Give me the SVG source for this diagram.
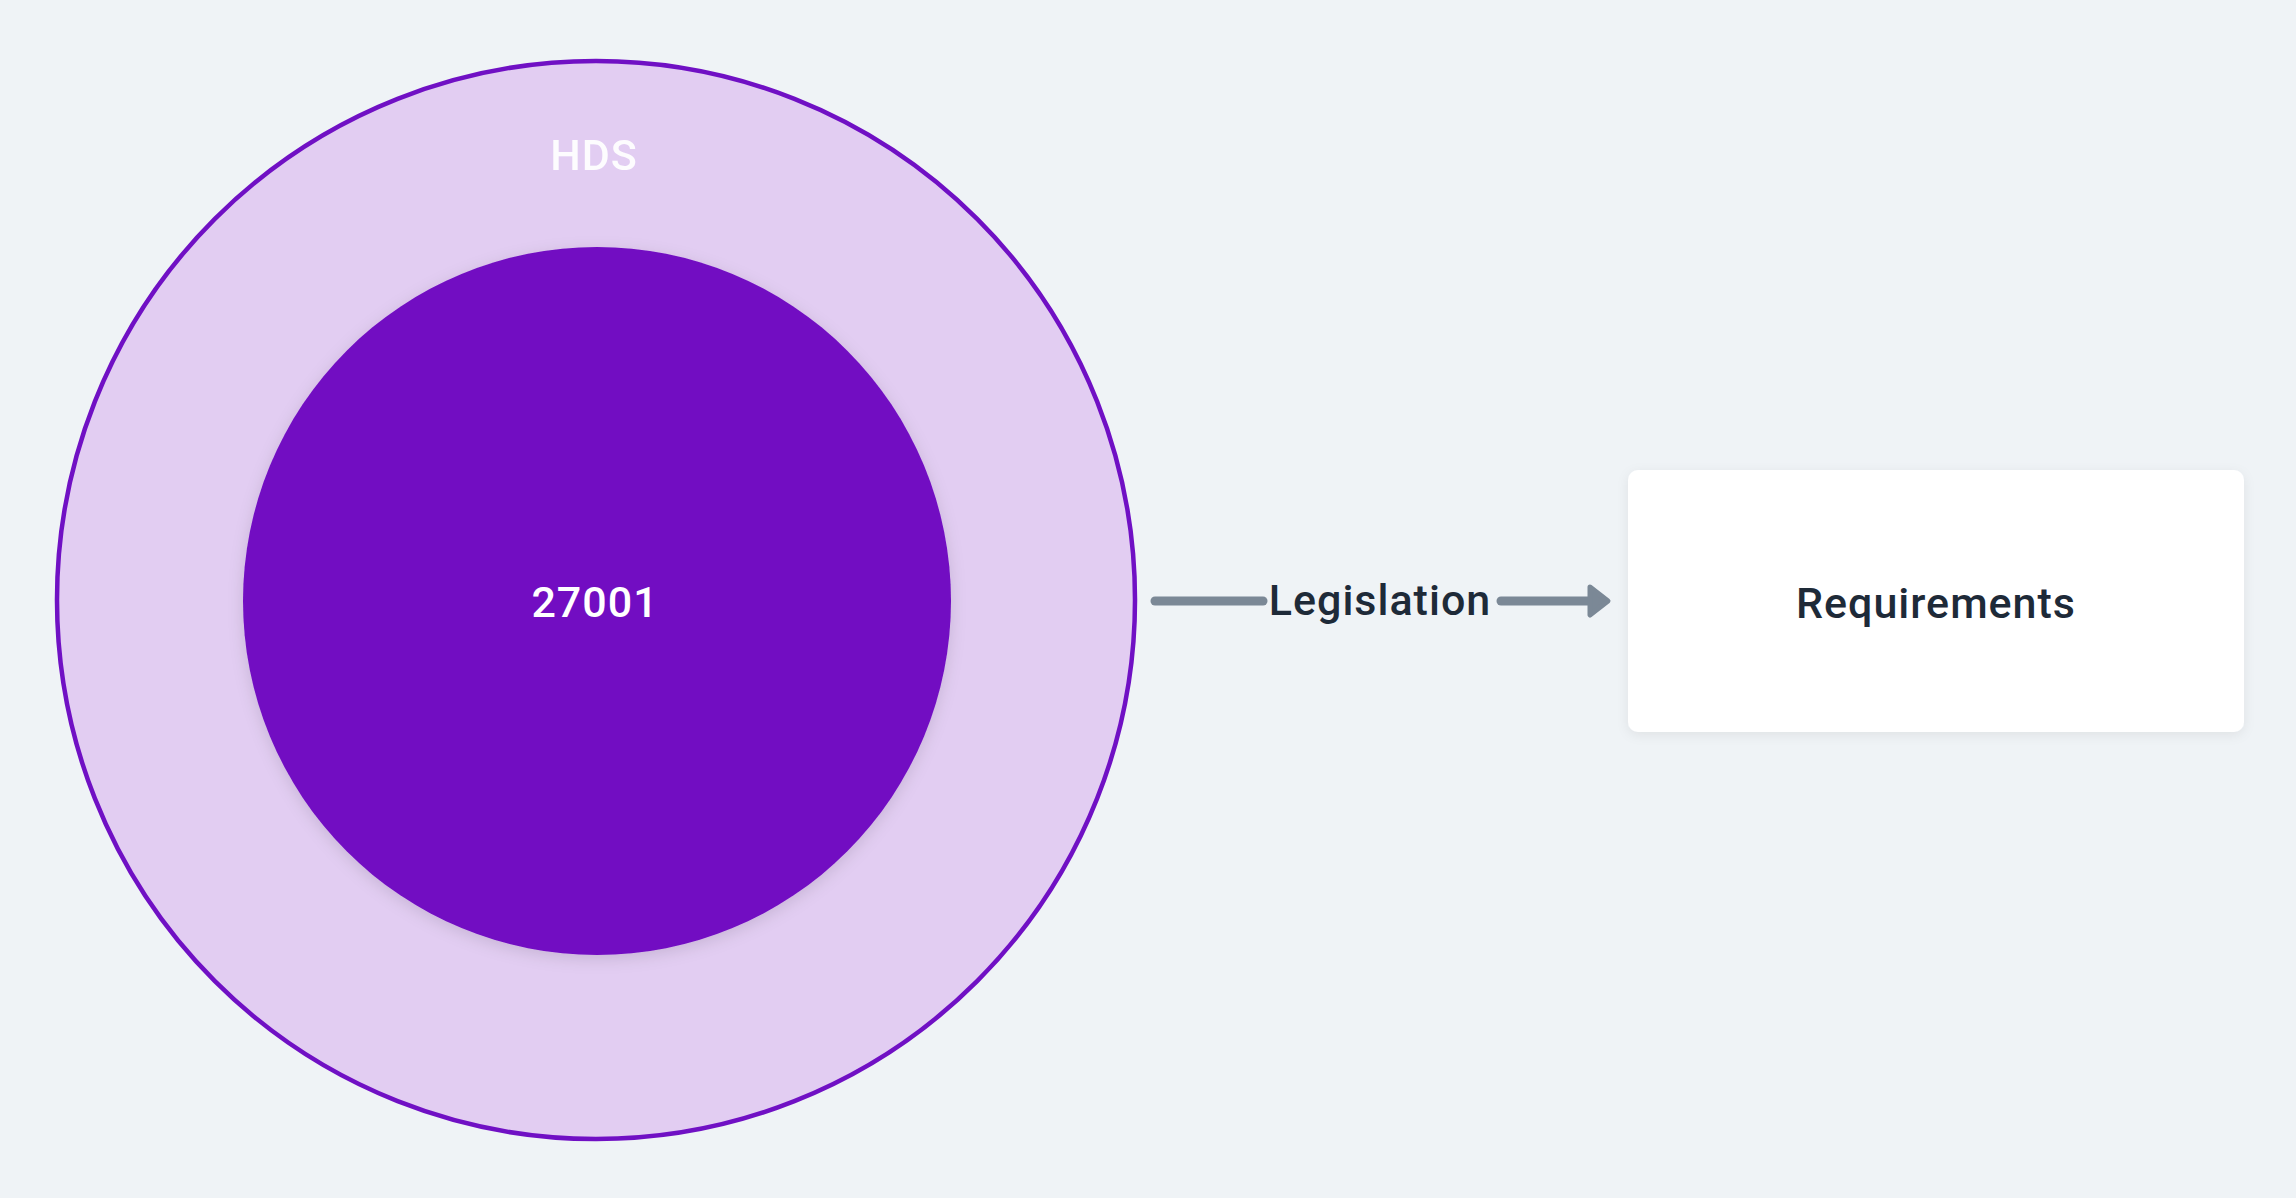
<svg xmlns="http://www.w3.org/2000/svg" width="2296" height="1198" viewBox="0 0 2296 1198">
<style>
.lbl{font-family:Roboto,"Liberation Sans","DejaVu Sans",sans-serif;font-weight:500;font-size:43px;text-anchor:middle;letter-spacing:1px}
.dark{fill:#1e2a38}
.light{fill:#ffffff}
.conn{stroke:#7b8896;stroke-width:9;stroke-linecap:round;fill:none}
</style>
<defs>
<filter id="sh" x="-20%" y="-20%" width="140%" height="140%">
<feDropShadow dx="0" dy="4" stdDeviation="8" flood-color="#000" flood-opacity="0.12"/>
</filter>
<filter id="sh2" x="-10%" y="-20%" width="120%" height="140%">
<feDropShadow dx="0" dy="3" stdDeviation="6" flood-color="#000" flood-opacity="0.07"/>
</filter>
</defs>
<rect width="2296" height="1198" fill="#eff3f6"/>
<g id="hds">
<circle cx="596" cy="600" r="539" fill="#e2cdf2" stroke="#7010c4" stroke-width="4.5"/>
<text class="lbl light" x="594" y="170" font-size="44" opacity="0.95">HDS</text>
</g>
<g id="n27001">
<circle cx="597" cy="601" r="354" fill="#7210c2" filter="url(#sh)"/>
<text class="lbl light" x="595" y="617">27001</text>
</g>
<g id="requirements">
<rect x="1628" y="470" width="616" height="262" rx="10" fill="#ffffff" filter="url(#sh2)"/>
<text class="lbl dark" x="1936" y="618">Requirements</text>
</g>
<g id="connectors">
<line class="conn" x1="1155" y1="601" x2="1263" y2="601"/>
<line class="conn" x1="1501" y1="601" x2="1592" y2="601"/>
<path d="M1590,587 L1608,601 L1590,615 Z" fill="#7b8896" stroke="#7b8896" stroke-width="5" stroke-linejoin="round"/>
<text class="lbl dark" x="1380" y="615">Legislation</text>
</g>
</svg>
